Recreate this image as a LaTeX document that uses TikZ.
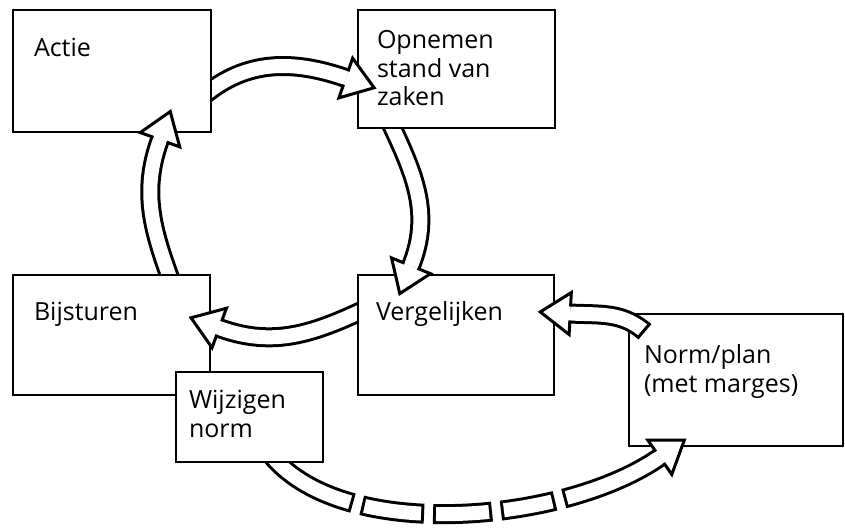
\documentclass[tikz,border=0pt]{standalone}
\usepackage{fontspec}
\setmainfont{Open Sans}
\usetikzlibrary{decorations.markings}
\pgfdeclarelayer{boxes}
\pgfdeclarelayer{heads}
\pgfsetlayers{main,boxes,heads}
\newcommand\pdcahead{%
  \begin{pgfonlayer}{heads}
    \filldraw[solid, draw=black, fill=white, line width=3pt, line join=miter]
      (0,7) -- (0,21) -- (30,0) -- (0,-21) -- (0,-7);
  \end{pgfonlayer}}
\tikzset{
  pdca box/.style={draw=black, fill=white, line width=2.4pt, inner sep=0pt},
  pdca text/.style={anchor=base west, align=left, inner sep=0pt, font=\fontsize{25}{28.5}\selectfont},
  pdca band/.style={preaction={draw=black, line width=20pt}, draw=white, line width=14pt},
  pdca tip/.style={postaction={decorate, decoration={markings, mark=at position 0.9999 with {\pdcahead}}}},
  pdca cap/.style={postaction={decorate, decoration={markings, mark=at position 0 with {\draw[solid, draw=black, line width=3pt] (0,-10) -- (0,10);}}}},
  pdca gaps/.style={
    preaction={draw=black, line width=20pt, dash pattern=on 95pt off 9pt on 63pt off 9pt on 59pt off 9pt on 55pt off 9pt on 600pt},
    draw=white, line width=14pt,
    dash pattern=on 92pt off 15pt on 57pt off 15pt on 53pt off 15pt on 49pt off 15pt on 600pt},
}

\begin{document}
\begin{tikzpicture}[x=1pt, y=1pt]
  \useasboundingbox (0,0) rectangle (845,-531);

  % Norm box sits under its own arrow
  \node[pdca box, minimum width=214, minimum height=132] (norm) at (736,-380) {};
  % base of a multi-line text is its last line
  \node[pdca text] (normtext) at ([shift={(16,-79.5)}]norm.north west) {Norm/plan\\(met marges)};

  % Cycle boxes
  \begin{pgfonlayer}{boxes}
    \node[pdca box, minimum width=198, minimum height=122] (actie) at (112,-71) {};
    \node[pdca box, minimum width=197, minimum height=118] (opnemen) at (456.5,-69) {};
    \node[pdca box, minimum width=196, minimum height=120] (vergelijken) at (456,-335) {};
    \node[pdca box, minimum width=197, minimum height=120] (bijsturen) at (111.5,-335) {};
    \node[pdca box, minimum width=147, minimum height=90] (wijzigen) at (249.5,-417) {};

    \node[pdca text] (actietext) at ([shift={(22,-48)}]actie.north west) {Actie};
    \node[pdca text] (opnementext) at ([shift={(20,-97)}]opnemen.north west) {Opnemen\\stand van\\zaken};
    \node[pdca text] (vergelijkentext) at ([shift={(19,-47)}]vergelijken.north west) {Vergelijken};
    \node[pdca text] (bijsturentext) at ([shift={(22,-47)}]bijsturen.north west) {Bijsturen};
    \node[pdca text] (wijzigentext) at ([shift={(14,-66.5)}]wijzigen.north west) {Wijzigen\\norm};
  \end{pgfonlayer}

  % Cycle arrows
  \draw[pdca band, pdca tip] ([shift={(-9,-25)}]actie.east) to[out=40, in=161] ([shift={(-11,-9)}]opnemen.west);
  \draw[pdca band, pdca tip] ([shift={(-66.5,7)}]opnemen.south) to[out=-65, in=68] ([shift={(-45,8)}]vergelijken.north);
  \draw[pdca band, pdca tip] ([shift={(9,26)}]vergelijken.west) to[out=205, in=-20] ([shift={(8,7)}]bijsturen.east);
  \draw[pdca band, pdca tip] ([shift={(60.5,-9.5)}]bijsturen.north) to[out=110, in=250] ([shift={(48,-6.5)}]actie.south);

  % Norm feeds the comparison
  \draw[pdca band, pdca cap, pdca tip] ([shift={(16,-18)}]norm.north west) to[out=140, in=-3] ([shift={(15,21.5)}]vergelijken.east);

  % Broken arrow: changing the norm
  \draw[pdca gaps, pdca tip] ([shift={(22.5,7)}]wijzigen.south) to[out=-50, in=215, looseness=0.75] ([shift={(32,-10)}]norm.south west);
\end{tikzpicture}
\end{document}
